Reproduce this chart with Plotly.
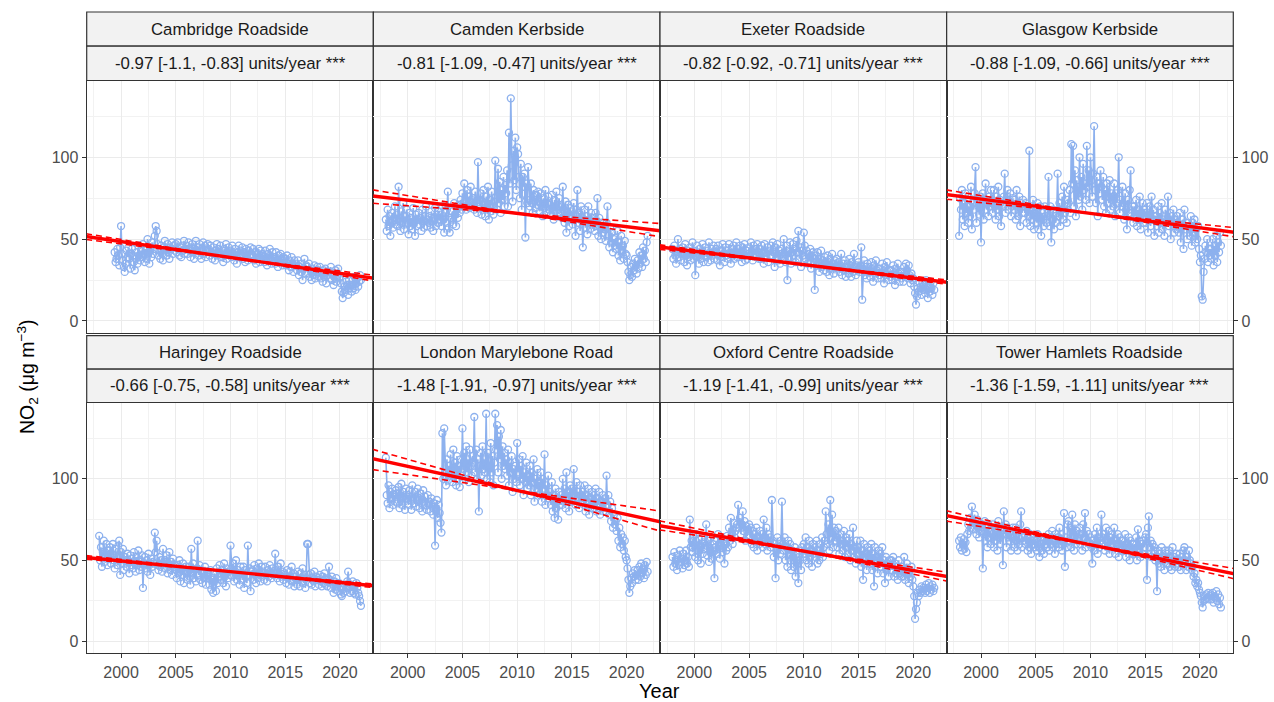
import plotly.graph_objects as go

# ---------------------------------------------------------------- data
site_names = ["Cambridge Roadside", "Camden Kerbside", "Exeter Roadside", "Glasgow Kerbside",
              "Haringey Roadside", "London Marylebone Road", "Oxford Centre Roadside",
              "Tower Hamlets Roadside"]

# first month of each monthly series (year, month)
start_month = [(1999, 6), (1998, 1), (1998, 1), (1998, 1),
               (1998, 1), (1998, 1), (1998, 1), (1998, 1)]

# Theil-Sen slope with its confidence interval (units/year)
slope = [-0.97, -0.81, -0.82, -0.88, -0.66, -1.48, -1.19, -1.36]
slope_lower = [-1.1, -1.09, -0.92, -1.09, -0.75, -1.91, -1.41, -1.59]
slope_upper = [-0.83, -0.47, -0.71, -0.66, -0.58, -0.97, -0.99, -1.11]
trend_at_2010 = [38.8, 65.7, 34.4, 65.7, 43.0, 92.9, 55.6, 59.5]
stars = ["***"] * 8

cambridge = [
    42, 36, 38, 44, 40, 34, 45,
    58, 41, 37, 33, 30, 35, 43, 39, 45, 38, 32, 41,
    44, 40, 36, 31, 38, 42, 35, 46, 40, 37, 43, 39,
    47, 41, 36, 44, 38, 50, 42, 35, 45, 39, 48, 41,
    44, 52, 58, 55, 47, 40, 43, 38, 46, 41, 37, 45,
    49, 43, 40, 47, 42, 38, 45, 44, 48, 41, 46, 43,
    47, 42, 48, 44, 40, 45, 39, 46, 43, 49, 41, 44,
    46, 41, 48, 43, 39, 45, 47, 42, 38, 44, 49, 43,
    45, 40, 47, 42, 38, 44, 48, 41, 46, 39, 43, 47,
    44, 40, 46, 42, 38, 45, 41, 37, 43, 47, 40, 44,
    42, 46, 39, 43, 36, 44, 40, 47, 38, 42, 45, 41,
    43, 39, 46, 41, 37, 44, 40, 35, 42, 46, 39, 43,
    41, 45, 38, 42, 36, 44, 40, 37, 43, 39, 45, 41,
    40, 44, 37, 42, 35, 41, 39, 44, 36, 43, 38, 41,
    40, 36, 43, 38, 34, 41, 37, 44, 39, 35, 42, 38,
    39, 35, 42, 37, 33, 40, 36, 41, 38, 34, 39, 37,
    38, 34, 40, 35, 31, 37, 33, 39, 35, 30, 37, 34,
    35, 31, 37, 28, 33, 30, 35, 25, 32, 38, 29, 34,
    33, 29, 35, 27, 31, 25, 32, 28, 34, 26, 30, 33,
    31, 27, 33, 26, 29, 24, 31, 27, 32, 23, 28, 30,
    30, 26, 33, 25, 28, 22, 29, 31, 24, 27, 32, 26,
    27, 23, 18, 14, 17, 21, 19, 24, 22, 16, 25, 20,
    22, 18, 25, 20, 27, 19, 23, 26, 21, 24, 28, 25,
]

camden = [
    62, 55, 68, 58, 64, 52, 60, 66, 57, 63, 70, 59,
    65, 58, 82, 61, 55, 67, 60, 72, 56, 64, 59, 68,
    60, 53, 66, 58, 63, 56, 69, 61, 52, 65, 58, 62,
    66, 59, 63, 55, 68, 61, 57, 64, 70, 58, 62, 60,
    64, 57, 67, 61, 55, 63, 69, 58, 65, 60, 67, 62,
    65, 58, 70, 62, 54, 66, 60, 68, 79, 57, 54, 63,
    62, 67, 59, 72, 65, 58, 69, 63, 71, 66, 74, 68,
    78, 70, 84, 73, 68, 80, 71, 76, 69, 82, 74, 70,
    75, 68, 79, 72, 66, 97, 74, 70, 78, 65, 73, 80,
    71, 64, 76, 69, 82, 62, 74, 67, 79, 70, 65, 73,
    98, 76, 68, 93, 72, 85, 66, 80, 74, 88, 70, 83,
    78, 92, 70, 115, 84, 136, 95, 73, 104, 86, 112, 80,
    106, 102, 88, 75, 96, 68, 88, 82, 90, 51, 84, 72,
    94, 78, 70, 84, 72, 66, 80, 74, 69, 77, 71, 79,
    73, 67, 78, 70, 64, 75, 69, 80, 66, 72, 76, 68,
    71, 65, 77, 68, 62, 74, 67, 79, 64, 70, 75, 66,
    70, 63, 82, 68, 60, 73, 54, 66, 71, 58, 69, 64,
    67, 59, 72, 62, 52, 68, 80, 60, 66, 55, 70, 61,
    45, 62, 68, 57, 64, 53, 70, 60, 56, 66, 59, 63,
    61, 55, 66, 58, 75, 52, 63, 57, 50, 60, 54, 58,
    56, 49, 60, 70, 52, 45, 57, 48, 54, 42, 50, 46,
    51, 44, 55, 40, 48, 37, 52, 43, 46, 38, 49, 41,
    40, 36, 30, 25, 28, 33, 27, 35, 31, 38, 34, 29,
    37, 32, 42, 35, 40, 33, 45, 38, 43, 36, 48, 52,
]

exeter = [
    44, 38, 46, 40, 35, 42, 50, 39, 44, 37, 41, 45,
    42, 36, 47, 40, 34, 43, 39, 45, 37, 41, 48, 38,
    43, 28, 39, 46, 41, 35, 44, 38, 42, 47, 36, 40,
    45, 39, 43, 36, 48, 41, 37, 44, 40, 46, 38, 42,
    44, 37, 46, 40, 34, 43, 39, 47, 41, 36, 45, 40,
    43, 38, 47, 41, 35, 44, 40, 46, 38, 42, 48, 39,
    44, 39, 46, 42, 36, 45, 40, 47, 37, 43, 38, 41,
    45, 40, 48, 42, 37, 46, 41, 44, 39, 47, 42, 38,
    44, 38, 46, 41, 35, 47, 42, 39, 45, 36, 43, 40,
    46, 40, 48, 42, 33, 45, 39, 47, 37, 43, 35, 41,
    44, 38, 50, 41, 36, 46, 25, 43, 39, 48, 35, 42,
    47, 40, 44, 36, 49, 42, 55, 38, 45, 33, 43, 40,
    54, 46, 38, 43, 35, 41, 37, 44, 32, 39, 42, 36,
    19, 40, 34, 42, 36, 30, 38, 43, 33, 37, 31, 39,
    36, 30, 40, 34, 28, 38, 32, 41, 35, 29, 37, 33,
    38, 32, 36, 30, 34, 41, 28, 35, 31, 37, 27, 33,
    35, 29, 38, 32, 27, 36, 30, 41, 33, 28, 34, 31,
    36, 30, 34, 45, 13, 32, 37, 28, 33, 26, 35, 30,
    33, 27, 36, 30, 24, 34, 29, 37, 31, 26, 32, 28,
    32, 26, 35, 29, 23, 33, 28, 36, 30, 25, 31, 27,
    31, 25, 34, 28, 22, 32, 27, 35, 29, 24, 30, 26,
    30, 24, 33, 27, 35, 31, 26, 34, 28, 23, 29, 25,
    26, 21, 17, 10, 15, 20, 18, 23, 21, 16, 24, 19,
    22, 17, 25, 19, 14, 21, 18, 24, 20, 16, 23, 19,
]

glasgow = [
    52, 75, 68, 80, 62, 72, 58, 78, 66, 74, 60, 70,
    64, 82, 56, 72, 68, 78, 94, 60, 74, 70, 65, 76,
    48, 70, 78, 62, 74, 84, 68, 72, 64, 76, 70, 80,
    72, 66, 80, 70, 62, 76, 68, 82, 64, 74, 58, 71,
    70, 76, 90, 66, 74, 80, 68, 72, 78, 64, 70, 75,
    68, 74, 62, 80, 70, 64, 76, 58, 72, 66, 74, 70,
    66, 72, 60, 70, 64, 104, 58, 68, 62, 74, 56, 66,
    68, 60, 72, 56, 64, 70, 52, 66, 62, 58, 70, 64,
    60, 66, 88, 58, 70, 48, 62, 68, 56, 64, 60, 66,
    90, 64, 72, 58, 68, 76, 62, 82, 66, 70, 60, 74,
    72, 80, 66, 108, 84, 107, 70, 92, 64, 86, 78, 74,
    100, 76, 88, 68, 96, 80, 84, 74, 107, 82, 92, 72,
    100, 86, 76, 90, 119, 80, 72, 88, 64, 84, 78, 92,
    82, 74, 88, 70, 80, 66, 84, 76, 72, 86, 68, 78,
    76, 70, 84, 64, 78, 72, 80, 100, 66, 74, 70, 82,
    72, 62, 78, 68, 56, 74, 66, 80, 92, 64, 70, 60,
    70, 64, 74, 58, 68, 62, 76, 56, 66, 72, 60, 68,
    66, 60, 72, 54, 64, 70, 58, 76, 62, 68, 52, 64,
    64, 58, 70, 54, 66, 60, 72, 56, 62, 52, 68, 60,
    62, 76, 58, 66, 50, 64, 60, 68, 54, 62, 56, 64,
    60, 54, 66, 48, 58, 62, 44, 68, 56, 60, 50, 58,
    58, 52, 64, 46, 60, 54, 62, 48, 56, 50, 58, 44,
    36, 40, 15, 13, 30, 38, 46, 42, 50, 36, 44, 40,
    44, 38, 50, 34, 46, 40, 52, 36, 48, 42, 54, 46,
]

haringey = [
    65, 50, 58, 46, 55, 62, 49, 53, 60, 47, 56, 51,
    58, 48, 54, 60, 50, 45, 57, 52, 47, 59, 62, 41,
    55, 48, 57, 44, 52, 50, 46, 54, 49, 42, 53, 47,
    51, 45, 55, 48, 43, 52, 47, 56, 44, 50, 46, 53,
    33, 48, 52, 45, 50, 43, 54, 47, 41, 51, 46, 49,
    48, 67, 55, 62, 47, 44, 52, 46, 50, 43, 57, 48,
    50, 45, 53, 42, 48, 55, 44, 49, 41, 51, 46, 47,
    44, 39, 47, 42, 50, 37, 45, 41, 48, 36, 43, 46,
    43, 38, 46, 40, 35, 57, 42, 48, 39, 44, 37, 45,
    62, 41, 47, 38, 44, 36, 42, 39, 46, 35, 43, 40,
    41, 35, 44, 32, 39, 30, 42, 37, 31, 45, 36, 40,
    47, 42, 38, 44, 36, 48, 40, 34, 45, 39, 43, 41,
    59, 45, 40, 48, 37, 43, 50, 38, 44, 41, 35, 46,
    42, 38, 46, 33, 44, 40, 36, 59, 41, 45, 31, 43,
    44, 38, 47, 41, 36, 45, 39, 48, 42, 37, 46, 40,
    43, 38, 46, 41, 37, 44, 40, 47, 42, 39, 45, 41,
    42, 54, 44, 39, 46, 41, 37, 48, 40, 43, 38, 42,
    41, 36, 44, 39, 35, 43, 38, 46, 37, 42, 34, 40,
    40, 35, 43, 38, 34, 42, 37, 45, 36, 41, 33, 39,
    60, 60, 41, 36, 42, 35, 39, 37, 43, 34, 40, 38,
    39, 35, 41, 37, 34, 40, 36, 42, 35, 38, 34, 39,
    46, 38, 33, 40, 35, 30, 37, 32, 39, 34, 31, 36,
    34, 29, 28, 32, 30, 35, 31, 33, 37, 43, 34, 30,
    35, 31, 37, 30, 34, 29, 36, 33, 30, 28, 25, 22,
]

marylebone = [
    113, 90, 85, 96, 82, 92, 88, 94, 84, 90, 86, 93,
    91, 85, 95, 82, 89, 97, 84, 92, 86, 81, 94, 88,
    90, 84, 93, 87, 81, 96, 88, 85, 92, 83, 89, 94,
    87, 82, 91, 85, 80, 93, 86, 89, 84, 81, 90, 85,
    86, 80, 88, 83, 78, 85, 59, 82, 87, 76, 84, 79,
    73, 67, 128, 100, 131, 104, 96, 112, 99, 108, 102, 115,
    105, 98, 118, 102, 110, 96, 114, 100, 108, 95, 112, 104,
    131, 106, 116, 100, 120, 104, 112, 98, 118, 108, 102, 114,
    110, 138, 104, 118, 100, 112, 80, 108, 116, 102, 120, 106,
    112, 104, 140, 100, 116, 108, 98, 122, 104, 114, 96, 110,
    140, 118, 133, 104, 126, 112, 130, 100, 120, 108, 116, 106,
    112, 102, 118, 96, 110, 104, 114, 92, 106, 100, 108, 98,
    122, 104, 112, 96, 108, 100, 114, 90, 104, 98, 110, 94,
    102, 96, 108, 90, 104, 98, 112, 86, 100, 94, 106, 92,
    98, 90, 104, 86, 100, 94, 115, 84, 96, 90, 102, 88,
    92, 84, 98, 80, 90, 76, 94, 82, 88, 75, 92, 84,
    90, 84, 100, 86, 94, 82, 104, 88, 92, 80, 96, 86,
    94, 86, 106, 90, 84, 98, 88, 92, 82, 96, 86, 90,
    92, 84, 96, 80, 90, 86, 94, 78, 88, 84, 92, 82,
    90, 82, 94, 80, 88, 84, 92, 78, 86, 82, 90, 80,
    88, 80, 102, 84, 90, 78, 86, 74, 82, 70, 78, 72,
    74, 68, 76, 62, 70, 58, 66, 60, 64, 56, 62, 52,
    50, 45, 38, 30, 34, 39, 36, 42, 40, 44, 38, 41,
    44, 38, 46, 40, 48, 42, 45, 39, 47, 41, 49, 43,
]

oxford = [
    52, 46, 55, 48, 50, 44, 53, 47, 56, 49, 51, 45,
    54, 47, 50, 56, 48, 52, 46, 75, 58, 62, 55, 65,
    60, 52, 66, 56, 50, 63, 58, 48, 64, 54, 61, 57,
    59, 72, 53, 62, 49, 57, 64, 51, 60, 55, 39, 58,
    62, 54, 66, 57, 51, 64, 59, 55, 63, 48, 60, 56,
    65, 58, 70, 62, 76, 66, 60, 73, 64, 68, 70, 72,
    84, 70, 76, 66, 72, 80, 68, 74, 62, 71, 65, 69,
    72, 64, 70, 60, 68, 58, 66, 62, 70, 56, 64, 60,
    68, 62, 66, 58, 75, 64, 60, 70, 56, 66, 62, 64,
    58, 87, 62, 52, 60, 39, 56, 64, 50, 58, 54, 62,
    86, 60, 56, 64, 50, 58, 46, 62, 54, 60, 44, 56,
    52, 46, 58, 40, 54, 48, 36, 56, 50, 44, 58, 52,
    60, 54, 64, 50, 58, 48, 62, 52, 56, 46, 60, 54,
    58, 52, 62, 48, 56, 50, 60, 54, 64, 52, 58, 62,
    80, 66, 60, 72, 56, 87, 64, 78, 58, 70, 62, 68,
    64, 58, 70, 54, 66, 60, 62, 56, 68, 52, 64, 58,
    62, 54, 66, 50, 60, 56, 70, 52, 58, 48, 62, 54,
    58, 50, 62, 46, 56, 38, 60, 52, 54, 44, 58, 50,
    56, 48, 60, 44, 54, 34, 58, 50, 52, 42, 56, 48,
    54, 46, 58, 42, 50, 36, 52, 44, 48, 40, 50, 44,
    50, 44, 52, 40, 48, 42, 46, 38, 50, 42, 44, 40,
    46, 40, 52, 38, 44, 48, 42, 36, 44, 40, 46, 38,
    34, 28, 14, 20, 24, 30, 28, 32, 30, 34, 31, 33,
    32, 30, 35, 31, 33, 36, 30, 34, 32, 35, 31, 33,
]

tower_hamlets = [
    62, 58, 64, 56, 60, 63, 57, 61, 55, 66, 72, 68,
    76, 70, 83, 74, 69, 78, 72, 66, 75, 70, 64, 73,
    68, 72, 45, 66, 74, 62, 70, 58, 72, 64, 68, 60,
    66, 72, 58, 70, 62, 68, 56, 74, 64, 60, 70, 66,
    47, 80, 66, 72, 58, 70, 64, 62, 68, 56, 66, 70,
    64, 58, 70, 62, 56, 68, 60, 72, 80, 58, 64, 62,
    66, 60, 68, 56, 64, 58, 66, 54, 62, 60, 64, 58,
    62, 56, 66, 58, 52, 64, 60, 56, 62, 54, 64, 60,
    62, 58, 66, 56, 64, 60, 68, 58, 62, 54, 66, 60,
    64, 58, 70, 60, 66, 56, 62, 79, 46, 64, 58, 72,
    74, 62, 70, 58, 78, 64, 56, 72, 60, 68, 62, 66,
    70, 60, 66, 56, 72, 64, 79, 58, 68, 62, 66, 60,
    64, 58, 48, 62, 56, 66, 60, 70, 54, 64, 58, 62,
    78, 64, 60, 66, 56, 70, 62, 58, 68, 54, 64, 60,
    66, 58, 70, 54, 62, 60, 66, 52, 64, 58, 62, 56,
    62, 56, 66, 52, 60, 58, 64, 50, 62, 56, 60, 54,
    60, 54, 64, 50, 69, 56, 62, 52, 60, 54, 62, 58,
    64, 66, 38, 70, 77, 58, 62, 52, 60, 56, 58, 50,
    52, 31, 56, 48, 54, 46, 58, 50, 52, 44, 56, 48,
    54, 48, 56, 46, 52, 44, 58, 50, 52, 46, 54, 48,
    50, 46, 54, 44, 52, 48, 56, 58, 50, 44, 52, 46,
    56, 50, 48, 44, 46, 40, 42, 36, 38, 34, 36, 32,
    30, 28, 24, 21, 25, 28, 26, 29, 27, 30, 26, 28,
    29, 26, 30, 24, 28, 27, 31, 25, 29, 23, 27, 21,
]

series = [cambridge, camden, exeter, glasgow, haringey, marylebone, oxford, tower_hamlets]

x_ticks = [2000, 2005, 2010, 2015, 2020]
y_ticks = [0, 50, 100]

# ---------------------------------------------------------------- layout geometry (pixels)
W, H = 1274, 702
col_left = [86.7, 373.35, 660.0, 946.65]
col_width = 286.65
row_plot = [(80.5, 332.7), (402.5, 653.3)]
row_strip = [(12.0, 46.2, 80.5), (335.7, 369.2, 402.5)]
x_range = [1996.86, 2023.05]
y_range = [-7.15, 146.9]

FONT = "Liberation Sans, Arial, Helvetica, sans-serif"
POINT_COL = "rgb(141,177,238)"
BORDER = "#333333"
GRID = "#EBEBEB"
TICK_SIZE = 16
STRIP_SIZE = 16.8
TITLE_SIZE = 19.5


def px_x(v):
    return v / W


def px_y(v):
    return 1 - v / H


fig = go.Figure()
layout_axes = {}
shapes = []
annotations = []

for i, name in enumerate(site_names):
    r, c = divmod(i, 4)
    xs_name = "x" if i == 0 else f"x{i + 1}"
    ys_name = "y" if i == 0 else f"y{i + 1}"
    xa_key = "xaxis" if i == 0 else f"xaxis{i + 1}"
    ya_key = "yaxis" if i == 0 else f"yaxis{i + 1}"

    y0, m = start_month[i]
    vals = series[i]
    xs = [y0 + (m - 1 + k) / 12.0 for k in range(len(vals))]

    fig.add_trace(go.Scatter(
        x=xs, y=vals, mode="lines+markers", xaxis=xs_name, yaxis=ys_name,
        line=dict(color=POINT_COL, width=1.6),
        marker=dict(symbol="circle-open", size=7, color=POINT_COL, line=dict(width=1.3)),
        showlegend=False, hoverinfo="x+y",
    ))

    # Theil-Sen trend with confidence bounds, pivoting at 2010
    lx = [1995.0, 2025.0]
    b = trend_at_2010[i]
    for s, dash, wdt in [(slope_lower[i], "6px,4px", 1.6), (slope_upper[i], "6px,4px", 1.6),
                         (slope[i], "solid", 3.4)]:
        fig.add_trace(go.Scatter(
            x=lx, y=[b + s * (xv - 2010) for xv in lx], mode="lines",
            xaxis=xs_name, yaxis=ys_name,
            line=dict(color="#FF0000", width=wdt, dash=dash),
            showlegend=False, hoverinfo="skip",
        ))

    left = col_left[c]
    top, bottom = row_plot[r]

    layout_axes[xa_key] = dict(
        domain=[px_x(left), px_x(left + col_width)], anchor=ys_name,
        range=x_range, tickvals=x_ticks, showticklabels=(r == 1),
        ticks="outside" if r == 1 else "", ticklen=4, tickwidth=1, tickcolor=BORDER,
        tickfont=dict(family=FONT, size=TICK_SIZE, color="#4D4D4D"),
        showgrid=True, gridcolor=GRID, gridwidth=1.1, zeroline=False,
        minor=dict(dtick=2.5, tick0=1997.5, showgrid=True, gridcolor="#F2F2F2", gridwidth=0.6),
        showline=True, linecolor=BORDER, linewidth=1.2, mirror=True,
    )
    side = "right" if c == 3 else "left"
    show_y = c in (0, 3)
    layout_axes[ya_key] = dict(
        domain=[px_y(bottom), px_y(top)], anchor=xs_name, side=side,
        range=y_range, tickvals=y_ticks, showticklabels=show_y,
        ticks="outside" if show_y else "", ticklen=4, tickwidth=1, tickcolor=BORDER,
        tickfont=dict(family=FONT, size=TICK_SIZE, color="#4D4D4D"),
        showgrid=True, gridcolor=GRID, gridwidth=1.1, zeroline=False,
        minor=dict(dtick=25, tick0=25, showgrid=True, gridcolor="#F2F2F2", gridwidth=0.6),
        showline=True, linecolor=BORDER, linewidth=1.2, mirror=True,
    )

    # two-level strip: site name, then the trend summary
    s_top, s_mid, s_bot = row_strip[r]
    summary = f"{slope[i]:g} [{slope_lower[i]:g}, {slope_upper[i]:g}] units/year {stars[i]}"
    for (ya, yb, txt) in [(s_top, s_mid, name), (s_mid, s_bot, summary)]:
        shapes.append(dict(type="rect", xref="paper", yref="paper",
                           x0=px_x(left), x1=px_x(left + col_width),
                           y0=px_y(yb), y1=px_y(ya),
                           fillcolor="#F2F2F2", line=dict(color=BORDER, width=1.2)))
        annotations.append(dict(xref="paper", yref="paper",
                                x=px_x(left + col_width / 2), y=px_y((ya + yb) / 2),
                                text=txt, showarrow=False, xanchor="center", yanchor="middle",
                                font=dict(family=FONT, size=STRIP_SIZE, color="#1A1A1A")))

annotations.append(dict(xref="paper", yref="paper", x=px_x(660), y=px_y(691),
                        text="Year", showarrow=False, xanchor="center", yanchor="middle",
                        font=dict(family=FONT, size=TITLE_SIZE + 0.5, color="#000000")))
annotations.append(dict(xref="paper", yref="paper", x=px_x(27), y=px_y(377),
                        text="NO<sub>2</sub> (\u03bcg m<sup>\u22123</sup>)", textangle=-90,
                        showarrow=False, xanchor="center", yanchor="middle",
                        font=dict(family=FONT, size=TITLE_SIZE, color="#000000")))

fig.update_layout(
    width=W, height=H, autosize=False,
    margin=dict(l=0, r=0, t=0, b=0, pad=0),
    paper_bgcolor="white", plot_bgcolor="white",
    shapes=shapes, annotations=annotations,
    **layout_axes,
)

fig.write_html("out.html")
